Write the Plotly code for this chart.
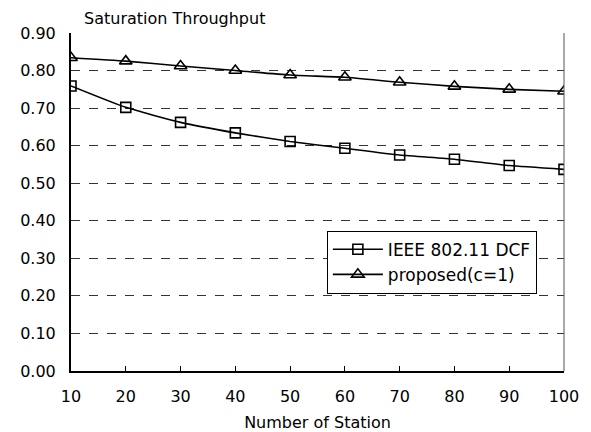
import plotly.graph_objects as go

### 데이터
stations = [10, 20, 30, 40, 50, 60, 70, 80, 90, 100]
dcf = [0.759, 0.702, 0.662, 0.634, 0.611, 0.593, 0.575, 0.564, 0.547, 0.537]
proposed = [0.834, 0.825, 0.812, 0.800, 0.788, 0.782, 0.769, 0.758, 0.750, 0.745]
y_ticks = [0.0, 0.1, 0.2, 0.3, 0.4, 0.5, 0.6, 0.7, 0.8, 0.9]

font_name = 'DejaVu Sans'

fig = go.Figure()
fig.add_trace(go.Scatter(x=stations, y=dcf, name='IEEE 802.11 DCF',
                         mode='lines+markers',
                         line=dict(color='black', width=1.6, shape='spline', smoothing=0.5),
                         marker=dict(symbol='square-open', size=10, color='black',
                                     line=dict(width=1.6))))
fig.add_trace(go.Scatter(x=stations, y=proposed, name='proposed(c=1)',
                         mode='lines+markers',
                         line=dict(color='black', width=1.6, shape='spline', smoothing=0.5),
                         marker=dict(symbol='triangle-up-open', size=11, color='black',
                                     line=dict(width=1.6))))

# 오른쪽 테두리
fig.add_shape(type='line', xref='paper', yref='paper', x0=1, x1=1, y0=0, y1=1,
              line=dict(color='#555555', width=1))

fig.add_annotation(text='Saturation Throughput', xref='paper', yref='paper',
                   x=0.022, y=1.0, xanchor='left', yanchor='bottom', yshift=3,
                   showarrow=False, font=dict(family=font_name, size=16, color='black'))

# 페이지 body 여백(8px) 보정
fig.update_layout(
    width=591, height=432,
    margin=dict(l=63, r=35, t=25, b=69),
    paper_bgcolor='white', plot_bgcolor='white',
    font=dict(family=font_name, size=16, color='black'),
    showlegend=True,
    legend=dict(x=0.519, y=0.415, xanchor='left', yanchor='top',
                bordercolor='black', borderwidth=1, bgcolor='white',
                font=dict(size=17), tracegroupgap=0, itemwidth=50),
    xaxis=dict(range=[10, 100], tickvals=stations, showgrid=False,
               showline=True, linecolor='black', linewidth=2,
               ticks='inside', ticklen=5, tickcolor='black',
               ticklabelstandoff=10,
               title=dict(text='Number of Station', font=dict(size=16), standoff=12),
               zeroline=False),
    yaxis=dict(range=[0, 0.9], tickvals=y_ticks, tickformat='.2f',
               showgrid=True, gridcolor='#333333', griddash='dash', gridwidth=1,
               showline=True, linecolor='black', linewidth=2,
               ticklabelstandoff=10,
               ticks='', zeroline=False),
)

fig.write_html("out.html")
